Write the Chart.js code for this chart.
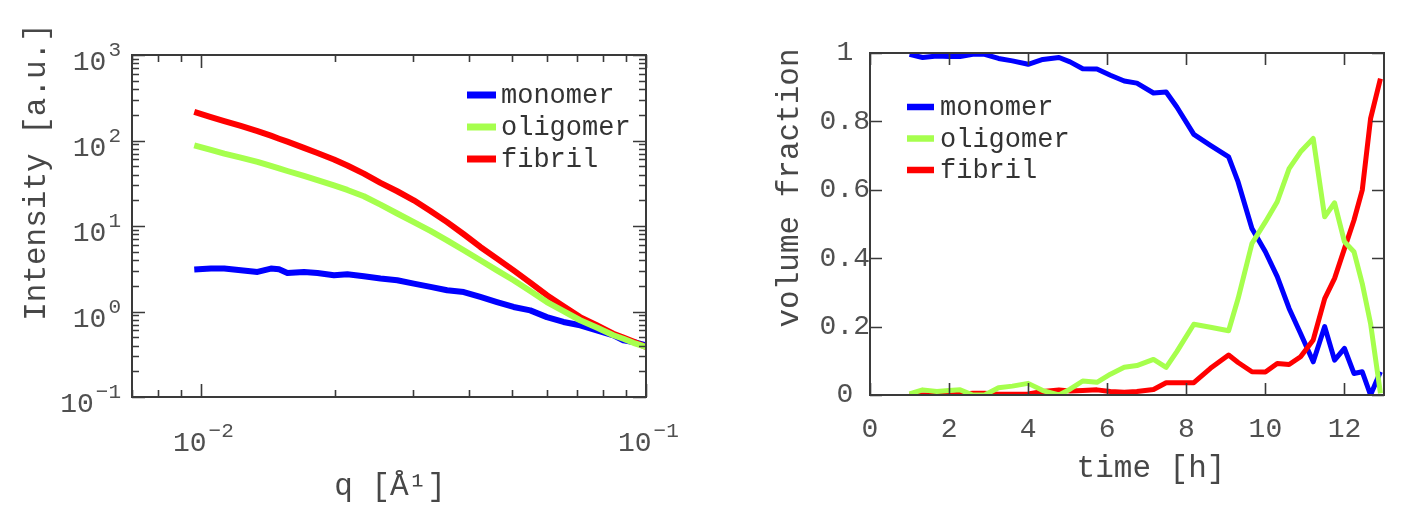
<!DOCTYPE html>
<html>
<head>
<meta charset="utf-8">
<script src="https://cdn.jsdelivr.net/npm/chart.js@4.4.1/dist/chart.umd.min.js"></script>
<style>
  html, body { margin: 0; padding: 0; background: #fff; }
  body { width: 1420px; height: 527px; position: relative; overflow: hidden; }
  .box { position: absolute; top: 0; }
  #left { left: 0; width: 700px; height: 527px; }
  #right { left: 760px; width: 660px; height: 527px; }
</style>
</head>
<body>
<div class="box" id="left"><canvas id="saxs" width="700" height="527"></canvas></div>
<div class="box" id="right"><canvas id="kinetics" width="660" height="527"></canvas></div>
<script>
'use strict';

let seriesNames = ['monomer', 'oligomer', 'fibril'];

// scattering curves, q in 1/A
let qValues = [0.00966, 0.01053, 0.01128, 0.01229, 0.0134, 0.01436, 0.01498, 0.01564, 0.01704, 0.01827,
    0.0199, 0.02133, 0.02323, 0.02532, 0.02761, 0.03008, 0.03279, 0.03573, 0.03895, 0.04244,
    0.04626, 0.05041, 0.05494, 0.05988, 0.06525, 0.07112, 0.07751, 0.08447, 0.08894, 0.09366, 0.1];
let monomerIntensity = [3.09, 3.18, 3.18, 3.03, 2.90, 3.18, 3.12, 2.82, 2.90, 2.82,
    2.65, 2.72, 2.58, 2.43, 2.32, 2.12, 1.94, 1.77, 1.69, 1.48,
    1.29, 1.13, 1.03, 0.86, 0.754, 0.69, 0.603, 0.527, 0.46, 0.44, 0.403];
let oligomerIntensity = [87.9, 77.5, 70.2, 63, 56.1, 50.4, 47.3, 44, 38.5, 34.5,
    29.9, 26.4, 22.3, 17.8, 14.0, 11.1, 8.75, 6.8, 5.2, 3.97,
    3.03, 2.32, 1.74, 1.29, 1.01, 0.79, 0.65, 0.527, 0.48, 0.43, 0.385];
let fibrilIntensity = [215.6, 188, 169, 148, 129, 114, 105, 97, 82, 71.5,
    60, 51, 41, 32, 25.5, 20, 15, 11.1, 8.0, 5.69,
    4.15, 3.03, 2.18, 1.55, 1.15, 0.86, 0.69, 0.55, 0.495, 0.445, 0.385];

// volume fractions over time
let timeHours = [1.0, 1.33, 1.69, 2.0, 2.28, 2.6, 2.9, 3.25, 3.6, 4.0,
    4.37, 4.78, 5.06, 5.38, 5.74, 6.08, 6.43, 6.75, 7.17, 7.49,
    7.76, 8.19, 8.61, 9.07, 9.31, 9.66, 10.0, 10.3, 10.6, 10.89,
    11.21, 11.5, 11.75, 12.0, 12.24, 12.45, 12.66, 12.91];
let monomerFraction = [0.996, 0.987, 0.991, 0.99, 0.99, 0.996, 0.996, 0.984, 0.977, 0.967,
    0.981, 0.987, 0.974, 0.954, 0.953, 0.935, 0.918, 0.912, 0.883, 0.886,
    0.842, 0.762, 0.730, 0.696, 0.623, 0.487, 0.419, 0.346, 0.253, 0.180,
    0.097, 0.200, 0.102, 0.136, 0.063, 0.068, 0.0, 0.068];
let oligomerFraction = [0.003, 0.015, 0.010, 0.013, 0.015, 0.0, 0.0, 0.021, 0.026, 0.034,
    0.013, 0.0, 0.017, 0.041, 0.037, 0.061, 0.081, 0.086, 0.104, 0.081,
    0.127, 0.207, 0.198, 0.188, 0.282, 0.443, 0.506, 0.565, 0.662, 0.711,
    0.750, 0.521, 0.562, 0.448, 0.419, 0.326, 0.209, 0.005];
let fibrilFraction = [0.0, 0.0, 0.0, 0.0, 0.002, 0.005, 0.005, 0.002, 0.002, 0.003,
    0.01, 0.015, 0.012, 0.013, 0.015, 0.01, 0.008, 0.010, 0.016, 0.036,
    0.036, 0.036, 0.078, 0.117, 0.095, 0.068, 0.067, 0.092, 0.089, 0.112,
    0.161, 0.282, 0.341, 0.428, 0.511, 0.599, 0.808, 0.925];

// tick positions and labels
let qTickValues = [0.007, 0.008, 0.009, 0.01, 0.02, 0.03, 0.04, 0.05, 0.06, 0.07, 0.08, 0.09, 0.1];
let qLabelValues = [0.01, 0.1];
let qExponents = ['\u22122', '\u22121'];
let intensityDecades = [0.1, 1, 10, 100];
let intensityLabelValues = [0.1, 1, 10, 100, 1000];
let intensityExponents = ['\u22121', '0', '1', '2', '3'];
let timeTicks = [0, 2, 4, 6, 8, 10, 12];
let fractionTicks = [0, 0.2, 0.4, 0.6, 0.8, 1];
let fractionLabels = ['0', '0.2', '0.4', '0.6', '0.8', '1'];

let colors = ['#0000ff', '#a6ff4d', '#ff0000'];
let drawOrder = [2, 0, 1];
let fontName = "'Liberation Mono', monospace";
let tickColor = '#505050';

Chart.defaults.font.family = fontName;
Chart.defaults.color = tickColor;

let intensityTickValues = [];
intensityDecades.forEach(d => {
    for (let m = 1; m <= 9; m++) intensityTickValues.push(d * m);
});
intensityTickValues.push(1000);

function isDecade(v) {
    let l = Math.log10(v);
    return Math.abs(l - Math.round(l)) < 1e-6;
}

function noPadding(s) {
    s.paddingLeft = 0;
    s.paddingRight = 0;
    s.paddingTop = 0;
    s.paddingBottom = 0;
}

// box frame with inward ticks on all four sides
function makeFrameTicks(xTicks, yTicks, major, minor, log) {
    return {
        id: 'frameTicks',
        afterDraw(chart) {
            const ctx = chart.ctx;
            const a = chart.chartArea;
            const x = chart.scales.x;
            const y = chart.scales.y;
            ctx.save();
            ctx.strokeStyle = '#3a3a3a';
            ctx.lineWidth = 1.6;
            xTicks.forEach(v => {
                const px = Math.round(x.getPixelForValue(v)) + 0.5;
                const len = (!log || isDecade(v)) ? major : minor;
                ctx.beginPath();
                ctx.moveTo(px, a.bottom);
                ctx.lineTo(px, a.bottom - len);
                ctx.moveTo(px, a.top);
                ctx.lineTo(px, a.top + len);
                ctx.stroke();
            });
            yTicks.forEach(v => {
                const py = Math.round(y.getPixelForValue(v)) + 0.5;
                const len = (!log || isDecade(v)) ? major : minor;
                ctx.beginPath();
                ctx.moveTo(a.left, py);
                ctx.lineTo(a.left + len, py);
                ctx.moveTo(a.right, py);
                ctx.lineTo(a.right - len, py);
                ctx.stroke();
            });
            ctx.lineWidth = 2;
            ctx.strokeRect(a.left, a.top, a.right - a.left, a.bottom - a.top);
            ctx.restore();
        }
    };
}

// "10" with a raised exponent at the decade ticks of the log axes
function drawPower(ctx, exp, left, baseline) {
    ctx.font = '28px ' + fontName;
    ctx.fillText('10', left, baseline);
    let w = ctx.measureText('10').width;
    ctx.font = '21px ' + fontName;
    ctx.fillText(exp, left + w + 2, baseline - 14);
}

function powerWidth(ctx, exp) {
    ctx.font = '28px ' + fontName;
    let w = ctx.measureText('10').width;
    ctx.font = '21px ' + fontName;
    return w + 2 + ctx.measureText(exp).width;
}

const powerLabels = {
    id: 'powerLabels',
    afterDraw(chart) {
        const ctx = chart.ctx;
        const a = chart.chartArea;
        const x = chart.scales.x;
        const y = chart.scales.y;
        ctx.save();
        ctx.fillStyle = tickColor;
        ctx.textAlign = 'left';
        ctx.textBaseline = 'alphabetic';
        qLabelValues.forEach((v, i) => {
            drawPower(ctx, qExponents[i], x.getPixelForValue(v) - 28, a.bottom + 54);
        });
        intensityLabelValues.forEach((v, i) => {
            const w = powerWidth(ctx, intensityExponents[i]);
            drawPower(ctx, intensityExponents[i], 121 - w, y.getPixelForValue(v) + 15);
        });
        ctx.restore();
    }
};

const inlineLegend = {
    id: 'inlineLegend',
    afterDatasetsDraw(chart, args, opts) {
        const ctx = chart.ctx;
        ctx.save();
        ctx.font = opts.size + 'px ' + fontName;
        ctx.textBaseline = 'middle';
        ctx.textAlign = 'left';
        chart.data.datasets.forEach((ds, i) => {
            const y = opts.y + i * opts.spacing;
            ctx.strokeStyle = ds.borderColor;
            ctx.lineWidth = opts.lineWidth;
            ctx.beginPath();
            ctx.moveTo(opts.x, y);
            ctx.lineTo(opts.x + opts.length, y);
            ctx.stroke();
            ctx.fillStyle = opts.color;
            ctx.fillText(ds.label, opts.x + opts.length + opts.gap, y + 1);
        });
        ctx.restore();
    }
};

const axisTitles = {
    id: 'axisTitles',
    afterDraw(chart, args, opts) {
        const ctx = chart.ctx;
        ctx.save();
        ctx.font = opts.size + 'px ' + fontName;
        ctx.fillStyle = opts.color;
        ctx.textAlign = 'center';
        ctx.textBaseline = 'middle';
        ctx.save();
        ctx.translate(opts.xTitleX, opts.xTitleY);
        ctx.fillText(opts.xText, 0, 0);
        ctx.restore();
        ctx.save();
        ctx.translate(opts.yTitleX, opts.yTitleY);
        ctx.rotate(-Math.PI / 2);
        ctx.fillText(opts.yText, 0, 0);
        ctx.restore();
        ctx.restore();
    }
};

function makeDatasets(xs, ys, width) {
    return ys.map((vals, i) => ({
        label: seriesNames[i],
        data: xs.map((x, j) => ({ x: x, y: vals[j] })),
        borderColor: colors[i],
        backgroundColor: colors[i],
        borderWidth: width,
        pointRadius: 0,
        tension: 0,
        fill: false,
        borderJoinStyle: 'round',
        order: drawOrder[i]
    }));
}

new Chart(document.getElementById('saxs'), {
    type: 'line',
    data: {
        datasets: makeDatasets(qValues, [monomerIntensity, oligomerIntensity, fibrilIntensity], 6)
    },
    options: {
        responsive: false,
        animation: false,
        layout: { padding: { top: 55, right: 54, left: 0, bottom: 0 } },
        scales: {
            x: {
                type: 'logarithmic',
                min: 0.007,
                max: 0.1,
                grid: { display: false, drawTicks: false },
                border: { display: false },
                afterBuildTicks: s => { s.ticks = qTickValues.map(v => ({ value: v })); },
                afterFit: s => { s.height = 130; noPadding(s); },
                ticks: { autoSkip: false, maxRotation: 0, callback: () => '' }
            },
            y: {
                type: 'logarithmic',
                min: 0.1,
                max: 1000,
                grid: { display: false, drawTicks: false },
                border: { display: false },
                afterBuildTicks: s => { s.ticks = intensityTickValues.map(v => ({ value: v })); },
                afterFit: s => { s.width = 132; noPadding(s); },
                ticks: { autoSkip: false, callback: () => '' }
            }
        },
        plugins: {
            legend: { display: false },
            tooltip: { enabled: false },
            inlineLegend: { x: 467, y: 95, spacing: 32, length: 29, gap: 5, lineWidth: 7, size: 27, color: '#333' },
            axisTitles: {
                size: 31, color: '#474747',
                xText: 'q [\u00C5\u00B9]', xTitleX: 390, xTitleY: 487,
                yText: 'Intensity [a.u.]', yTitleX: 37, yTitleY: 172
            }
        }
    },
    plugins: [makeFrameTicks(qTickValues, intensityTickValues, 13, 7, true), powerLabels, inlineLegend, axisTitles]
});

new Chart(document.getElementById('kinetics'), {
    type: 'line',
    data: {
        datasets: makeDatasets(timeHours, [monomerFraction, oligomerFraction, fibrilFraction], 5)
    },
    options: {
        responsive: false,
        animation: false,
        layout: { padding: { top: 53, right: 36, left: 0, bottom: 0 } },
        scales: {
            x: {
                type: 'linear',
                min: 0,
                max: 13,
                grid: { display: false, drawTicks: false },
                border: { display: false },
                afterBuildTicks: s => { s.ticks = timeTicks.map(v => ({ value: v })); },
                afterFit: s => { s.height = 132; noPadding(s); },
                ticks: {
                    autoSkip: false,
                    maxRotation: 0,
                    padding: 18,
                    font: { size: 28 },
                    callback: v => String(v)
                }
            },
            y: {
                type: 'linear',
                min: 0,
                max: 1,
                grid: { display: false, drawTicks: false },
                border: { display: false },
                afterBuildTicks: s => { s.ticks = fractionTicks.map(v => ({ value: v })); },
                afterFit: s => { s.width = 110; noPadding(s); },
                ticks: {
                    autoSkip: false,
                    crossAlign: 'center',
                    padding: 0,
                    font: { size: 28 },
                    callback: (v, i) => fractionLabels[i]
                }
            }
        },
        plugins: {
            legend: { display: false },
            tooltip: { enabled: false },
            inlineLegend: { x: 147, y: 107, spacing: 31.5, length: 27, gap: 6, lineWidth: 6.5, size: 27, color: '#333' },
            axisTitles: {
                size: 31, color: '#474747',
                xText: 'time [h]', xTitleX: 391, xTitleY: 469,
                yText: 'volume fraction', yTitleX: 30, yTitleY: 188
            }
        }
    },
    plugins: [makeFrameTicks(timeTicks, fractionTicks, 12, 12, false), inlineLegend, axisTitles]
});
</script>
</body>
</html>
